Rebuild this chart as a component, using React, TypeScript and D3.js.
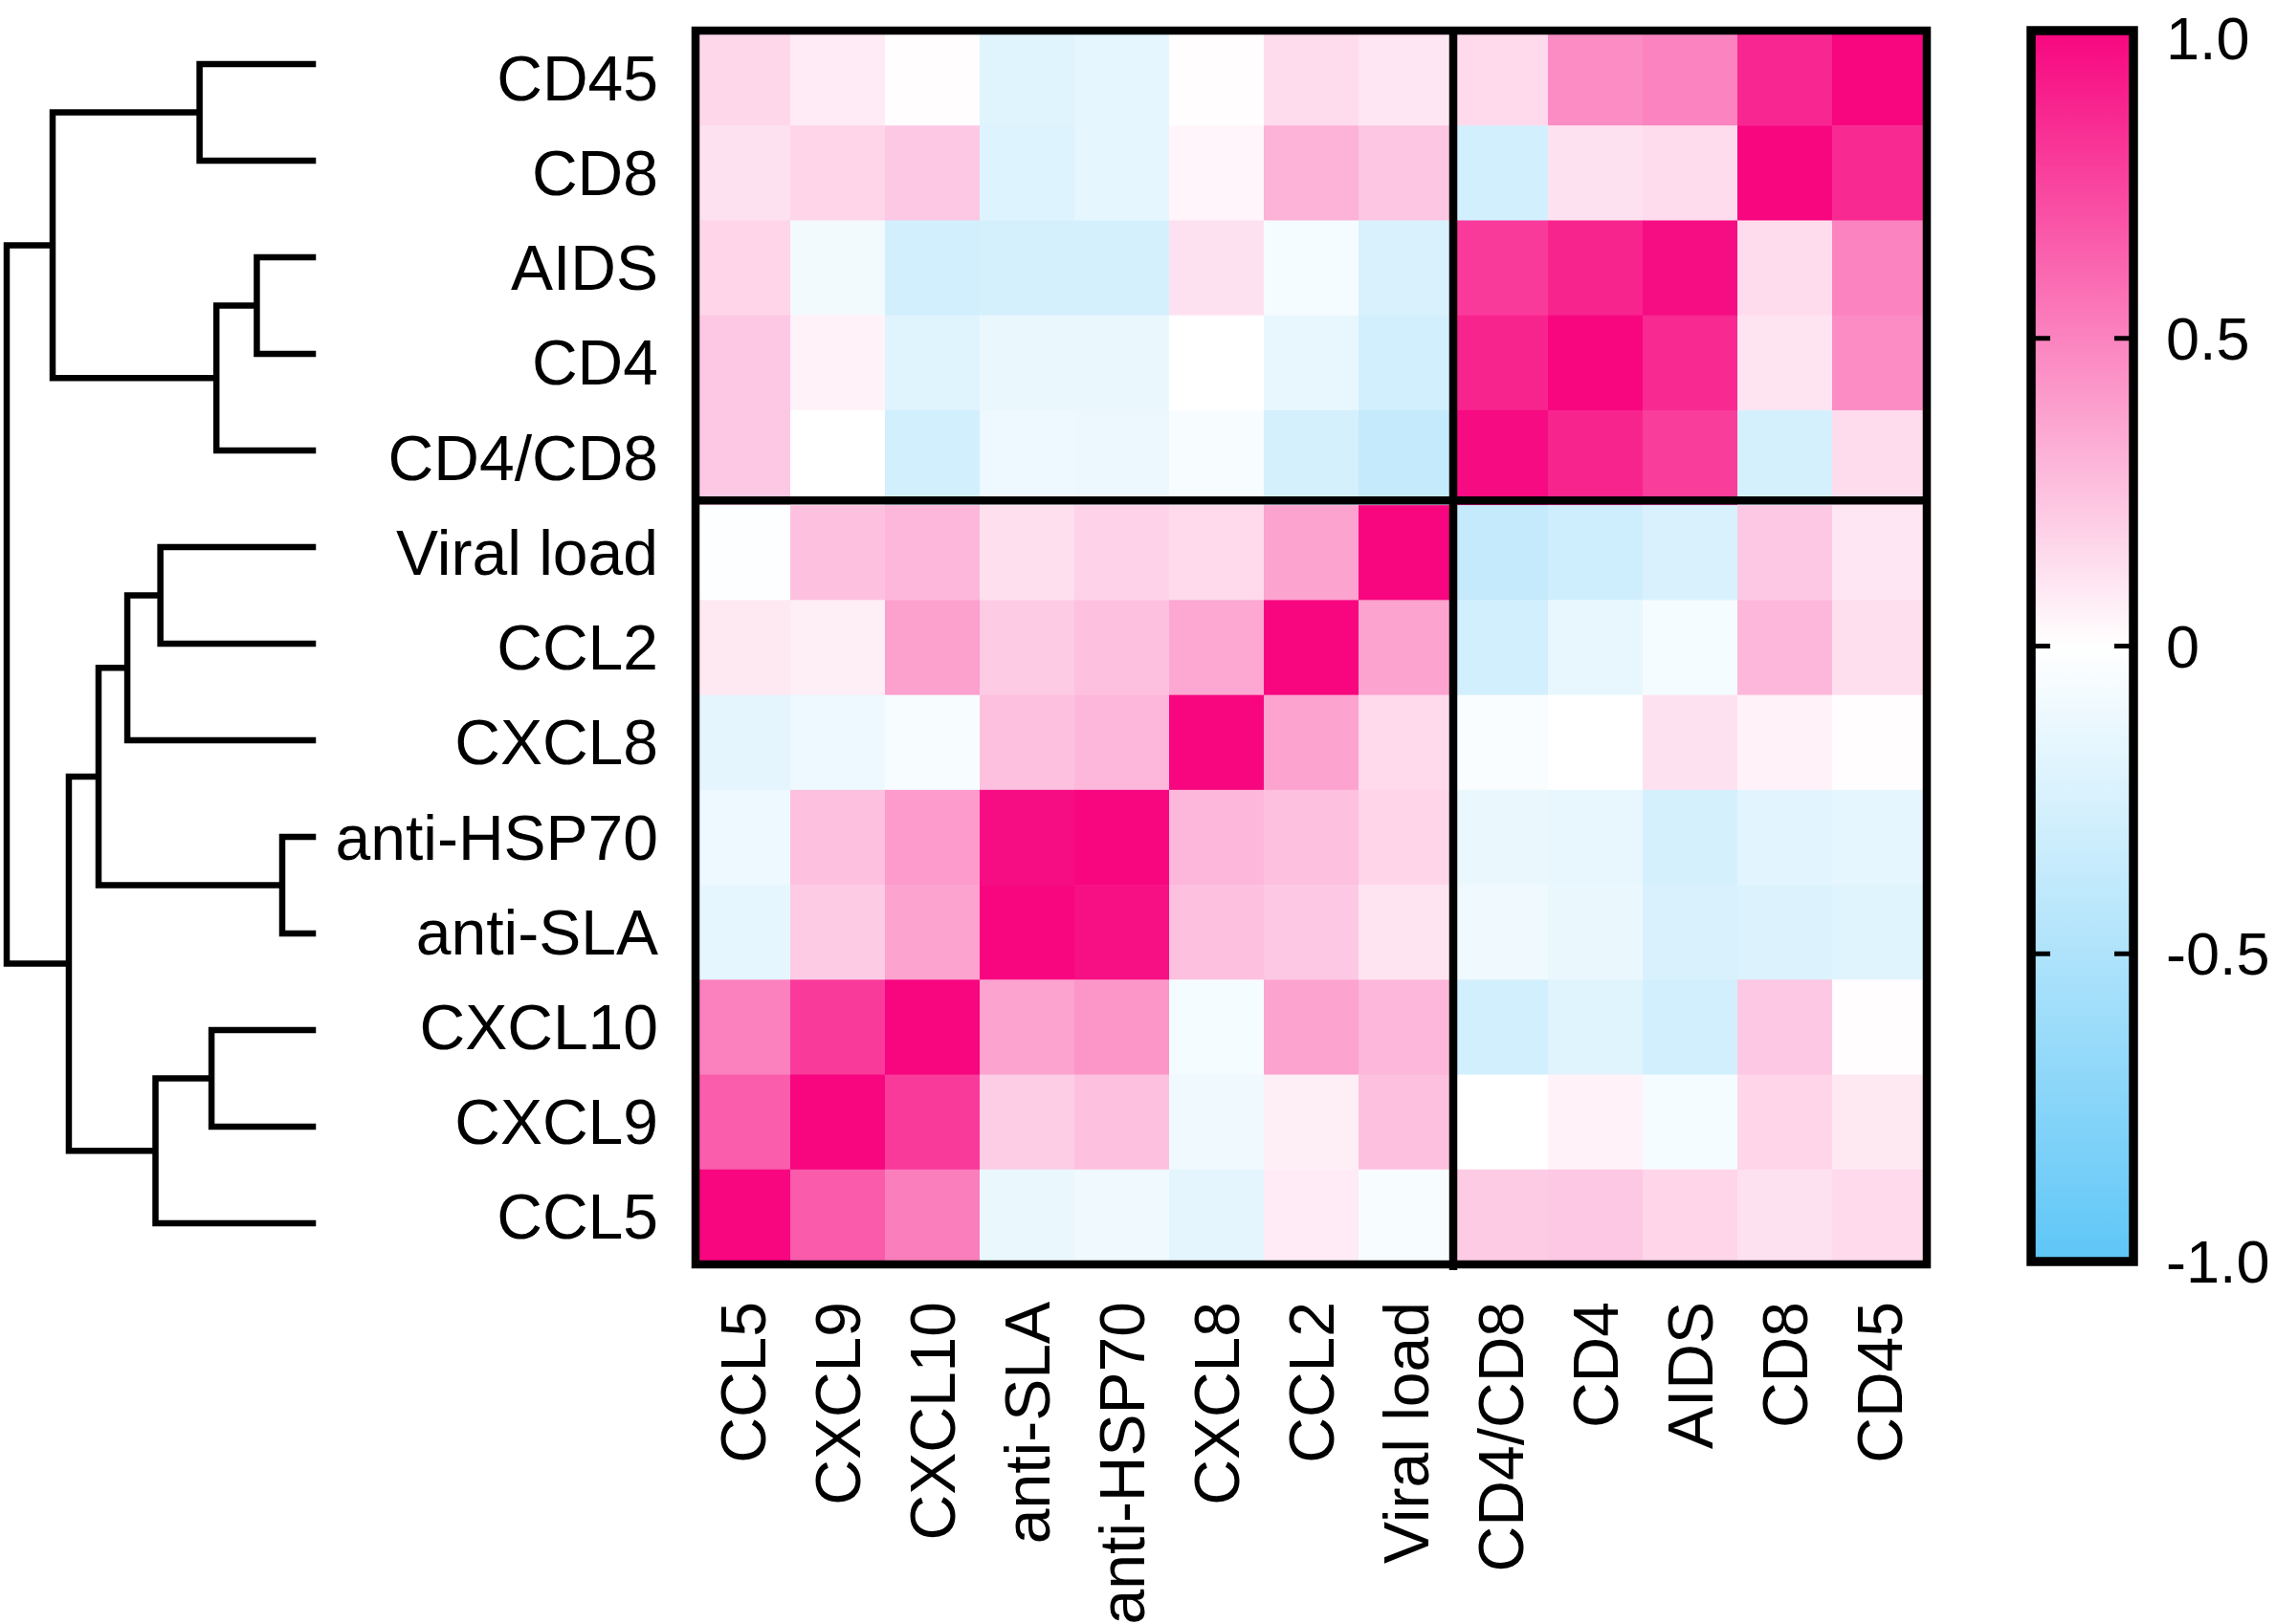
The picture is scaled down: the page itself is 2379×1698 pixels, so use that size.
import React from "react";
import * as d3 from "d3";

const rowLabels = ["CD45", "CD8", "AIDS", "CD4", "CD4/CD8", "Viral load", "CCL2", "CXCL8", "anti-HSP70", "anti-SLA", "CXCL10", "CXCL9", "CCL5"];
const colLabels = ["CCL5", "CXCL9", "CXCL10", "anti-SLA", "anti-HSP70", "CXCL8", "CCL2", "Viral load", "CD4/CD8", "CD4", "AIDS", "CD8", "CD45"];

const rowCD45 = [0.16, 0.08, 0.01, -0.19, -0.16, 0.01, 0.14, 0.1, 0.15, 0.46, 0.5, 0.87, 1.0];
const rowCD8 = [0.12, 0.17, 0.22, -0.21, -0.16, 0.04, 0.31, 0.23, -0.28, 0.12, 0.14, 1.0, 0.86];
const rowAIDS = [0.17, -0.08, -0.28, -0.26, -0.26, 0.12, -0.06, -0.24, 0.79, 0.88, 0.97, 0.14, 0.5];
const rowCD4 = [0.22, 0.05, -0.19, -0.13, -0.13, 0.0, -0.14, -0.28, 0.88, 1.0, 0.86, 0.11, 0.46];
const rowCD4CD8 = [0.22, 0.0, -0.28, -0.11, -0.12, -0.05, -0.26, -0.36, 0.98, 0.88, 0.78, -0.26, 0.14];
const rowViral = [-0.02, 0.25, 0.29, 0.13, 0.18, 0.15, 0.37, 1.0, -0.36, -0.3, -0.24, 0.22, 0.1];
const rowCCL2 = [0.09, 0.07, 0.38, 0.21, 0.25, 0.35, 1.0, 0.37, -0.28, -0.14, -0.06, 0.29, 0.13];
const rowCXCL8 = [-0.17, -0.11, -0.05, 0.25, 0.29, 1.0, 0.37, 0.15, -0.04, 0.0, 0.12, 0.05, 0.01];
const rowHSP70 = [-0.11, 0.25, 0.4, 0.97, 1.0, 0.29, 0.25, 0.17, -0.13, -0.14, -0.26, -0.18, -0.16];
const rowSLA = [-0.16, 0.21, 0.37, 1.0, 0.96, 0.25, 0.22, 0.11, -0.1, -0.13, -0.24, -0.22, -0.19];
const rowCXCL10 = [0.51, 0.79, 1.0, 0.37, 0.42, -0.06, 0.37, 0.29, -0.28, -0.19, -0.28, 0.22, 0.01];
const rowCXCL9 = [0.65, 1.0, 0.79, 0.2, 0.25, -0.1, 0.07, 0.25, 0.0, 0.05, -0.06, 0.17, 0.09];
const rowCCL5 = [1.0, 0.66, 0.52, -0.13, -0.1, -0.17, 0.08, -0.05, 0.21, 0.22, 0.17, 0.12, 0.15];

const matrix = [rowCD45, rowCD8, rowAIDS, rowCD4, rowCD4CD8, rowViral, rowCCL2, rowCXCL8, rowHSP70, rowSLA, rowCXCL10, rowCXCL9, rowCCL5];

const colorTicks = [1, 0.5, 0, -0.5, -1];
const colorTickLabels = ["1.0", "0.5", "0", "-0.5", "-1.0"];

// dendrogram: merge heights (root = 1)
const tree = {
  h: 1.0,
  children: [
    {
      h: 0.85,
      children: [
        { h: 0.37, children: [{ name: "CD45" }, { name: "CD8" }] },
        {
          h: 0.315,
          children: [
            { h: 0.183, children: [{ name: "AIDS" }, { name: "CD4" }] },
            { name: "CD4/CD8" },
          ],
        },
      ],
    },
    {
      h: 0.797,
      children: [
        {
          h: 0.7,
          children: [
            {
              h: 0.606,
              children: [
                { h: 0.498, children: [{ name: "Viral load" }, { name: "CCL2" }] },
                { name: "CXCL8" },
              ],
            },
            { h: 0.1, children: [{ name: "anti-HSP70" }, { name: "anti-SLA" }] },
          ],
        },
        {
          h: 0.514,
          children: [
            { h: 0.331, children: [{ name: "CXCL10" }, { name: "CXCL9" }] },
            { name: "CCL5" },
          ],
        },
      ],
    },
  ],
};

const W = 2379;
const H = 1698;
const FONT = "'Liberation Sans', Arial, Helvetica, sans-serif";
const PINK = "#F7067F";
const BLUE = "#5EC6F7";

export default function App() {
  const x = d3.scaleBand<string>().domain(colLabels).range([727, 2014]).padding(0);
  const y = d3.scaleBand<string>().domain(rowLabels).range([32, 1322]).padding(0);

  const color = d3
    .scaleLinear<string>()
    .domain([-1, 0, 1])
    .range([BLUE, "#FFFFFF", PINK])
    .interpolate(d3.interpolateRgb)
    .clamp(true);

  const cbY = d3.scaleLinear().domain([1, -1]).range([32, 1319]);
  const cbX0 = 2123;
  const cbX1 = 2230;

  // dendrogram
  const leafY = d3.scalePoint<string>().domain(rowLabels).range([67, 1279]);
  const hX = d3.scaleLinear().domain([0, 1]).range([327, 7]);
  const root = d3.hierarchy<any>(tree);
  root.eachAfter((n: any) => {
    if (!n.children) {
      n.yy = leafY(n.data.name);
      n.hh = 0;
    } else {
      n.yy = (n.children[0].yy + n.children[n.children.length - 1].yy) / 2;
      n.hh = n.data.h;
    }
  });
  const segs: string[] = [];
  root.each((n: any) => {
    if (n.children) {
      const xn = hX(n.hh);
      const ys = n.children.map((c: any) => c.yy);
      segs.push(`M${xn},${d3.min(ys)}V${d3.max(ys)}`);
      n.children.forEach((c: any) => {
        segs.push(`M${xn},${c.yy}H${hX(c.hh)}`);
      });
    }
  });

  const splitX = x(colLabels[8])!;
  const splitY = y(rowLabels[5])! - 5;

  return (
    <svg
      width={W}
      height={H}
      style={{ position: "absolute", left: 0, top: 0, background: "#fff" }}
      fontFamily={FONT}
    >
      <defs>
        <linearGradient id="cbgrad" x1="0" y1="0" x2="0" y2="1">
          <stop offset="0%" stopColor={color(1)} />
          <stop offset="25%" stopColor={color(0.5)} />
          <stop offset="50%" stopColor={color(0)} />
          <stop offset="75%" stopColor={color(-0.5)} />
          <stop offset="100%" stopColor={color(-1)} />
        </linearGradient>
      </defs>
      <rect x={0} y={0} width={W} height={H} fill="#fff" />

      {/* heatmap cells */}
      {matrix.map((row, ri) =>
        row.map((v, ci) => (
          <rect
            key={`${ri}-${ci}`}
            x={x(colLabels[ci])}
            y={y(rowLabels[ri])}
            width={x.bandwidth() + 0.5}
            height={y.bandwidth() + 0.5}
            fill={color(v)}
          />
        ))
      )}

      {/* block outlines */}
      <g fill="none" stroke="#000" strokeWidth={8.5}>
        <rect x={727} y={32} width={2014 - 727} height={1322 - 32} />
        <line x1={splitX} x2={splitX} y1={32} y2={1328} />
        <line x1={723} x2={2018} y1={splitY} y2={splitY} />
      </g>

      {/* row labels */}
      {rowLabels.map((r) => (
        <text
          key={r}
          x={688}
          y={y(r)! + y.bandwidth() / 2}
          dy="0.35em"
          textAnchor="end"
          fontSize={66}
          fill="#000"
        >
          {r}
        </text>
      ))}

      {/* column labels */}
      {colLabels.map((c) => {
        const cx = x(c)! + x.bandwidth() / 2;
        return (
          <text
            key={c}
            transform={`translate(${cx},1361) rotate(-90)`}
            dy="0.35em"
            textAnchor="end"
            fontSize={66}
            fill="#000"
          >
            {c}
          </text>
        );
      })}

      {/* dendrogram */}
      <path d={segs.join("")} fill="none" stroke="#000" strokeWidth={6.5} strokeLinecap="square" />

      {/* colorbar */}
      <rect x={cbX0} y={cbY(1)} width={cbX1 - cbX0} height={cbY(-1) - cbY(1)} fill="url(#cbgrad)" />
      <g stroke="#000" strokeWidth={5}>
        {colorTicks.slice(1, 4).map((t) => (
          <g key={t}>
            <line x1={cbX0} x2={cbX0 + 20} y1={cbY(t)} y2={cbY(t)} />
            <line x1={cbX1 - 20} x2={cbX1} y1={cbY(t)} y2={cbY(t)} />
          </g>
        ))}
      </g>
      <rect
        x={cbX0}
        y={cbY(1)}
        width={cbX1 - cbX0}
        height={cbY(-1) - cbY(1)}
        fill="none"
        stroke="#000"
        strokeWidth={9.5}
      />
      {colorTicks.map((t, i) => (
        <text
          key={t}
          x={2264}
          y={Math.max(cbY(t), 40)}
          dy="0.35em"
          fontSize={63}
          fill="#000"
        >
          {colorTickLabels[i]}
        </text>
      ))}
    </svg>
  );
}
